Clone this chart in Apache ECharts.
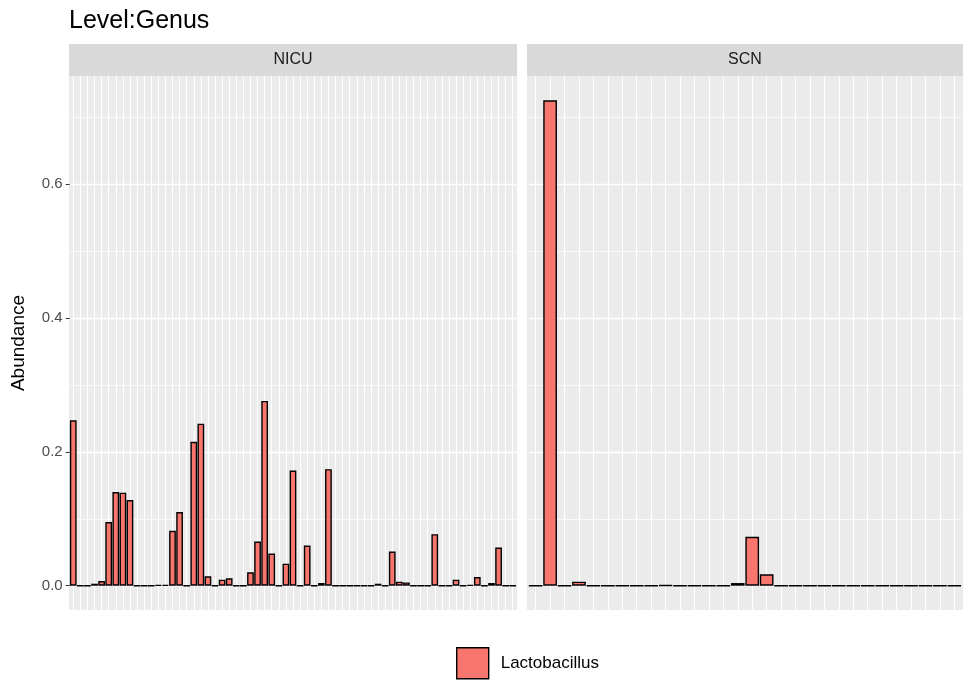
<!DOCTYPE html>
<html><head><meta charset="utf-8">
<script src="https://cdn.jsdelivr.net/npm/echarts@6/dist/echarts.min.js"></script>
<style>html,body{margin:0;padding:0;background:#fff}#c{width:964px;height:682px}</style>
</head><body><div id="c"></div>
<script>
// ---------- data ----------
const panelNames = ['NICU', 'SCN'];
const seriesName = 'Lactobacillus';
const nicuValues = [
  0.247, 0, 0, 0.003, 0.007, 0.095, 0.140, 0.139, 0.128, 0,
  0, 0, 0.001, 0.001, 0.082, 0.110, 0, 0.215, 0.242, 0.014,
  0, 0.009, 0.011, 0, 0, 0.020, 0.066, 0.276, 0.048, 0,
  0.033, 0.172, 0, 0.060, 0, 0.004, 0.174, 0, 0, 0,
  0, 0, 0, 0.003, 0, 0.051, 0.006, 0.005, 0, 0,
  0, 0.077, 0, 0, 0.009, 0, 0.001, 0.013, 0, 0.004,
  0.057, 0, 0
];
const scnValues = [
  0, 0.725, 0, 0.006, 0, 0, 0, 0, 0, 0.0005,
  0, 0, 0, 0, 0.004, 0.073, 0.017, 0, 0, 0,
  0, 0, 0, 0, 0, 0, 0, 0, 0, 0
];
const nicuSamples = nicuValues.map((_, i) => 'NICU_' + (i + 1));
const scnSamples = scnValues.map((_, i) => 'SCN_' + (i + 1));
const yTicks = [0, 0.2, 0.4, 0.6];
const yTickLabels = ['0.0', '0.2', '0.4', '0.6'];
const yMinorTicks = [0.1, 0.3, 0.5, 0.7];

// ---------- layout ----------
const FONT = 'Liberation Sans, Arial, Helvetica, sans-serif';
const panelTop = 76, panelBottom = 610, stripTop = 44;
const panelBoxes = [{ x: 69, w: 448 }, { x: 527, w: 436 }];
const categoryLists = [nicuSamples, scnSamples];
const valueLists = [nicuValues, scnValues];

const allMax = Math.max(...nicuValues, ...scnValues);
const yMin = -allMax * 0.05, yMax = allMax * 1.05;

const grids = [], xAxes = [], yAxes = [], series = [], graphics = [];
panelBoxes.forEach((p, i) => {
  const n = categoryLists[i].length;
  const s = p.w / (n + 0.2);
  grids.push({ left: p.x + 0.1 * s, width: n * s, top: panelTop, height: panelBottom - panelTop, containLabel: false });
  graphics.push({ type: 'rect', z: -10, shape: { x: p.x, y: panelTop, width: p.w, height: panelBottom - panelTop }, style: { fill: '#EBEBEB' } });
  graphics.push({ type: 'rect', z: -10, shape: { x: p.x, y: stripTop, width: p.w, height: panelTop - stripTop }, style: { fill: '#D9D9D9' } });
  graphics.push({ type: 'text', z: 5, x: p.x + p.w / 2, y: (stripTop + panelTop) / 2,
    style: { text: panelNames[i], fill: '#1A1A1A', font: '16px ' + FONT, textAlign: 'center', textVerticalAlign: 'middle' } });
  xAxes.push({
    type: 'category', gridIndex: i, data: categoryLists[i],
    axisLine: { show: false }, axisTick: { show: false }, axisLabel: { show: false },
    splitLine: { show: true, interval: 0, alignWithLabel: true, lineStyle: { color: '#FFFFFF', width: 1.1 } }
  });
  // minor grid axis
  yAxes.push({
    type: 'value', gridIndex: i, position: 'left', min: yMin, max: yMax,
    axisLine: { show: false }, axisLabel: { show: false },
    axisTick: { show: false, customValues: yMinorTicks },
    splitLine: { show: true, lineStyle: { color: '#FFFFFF', width: 0.7 } }
  });
  // major axis
  yAxes.push({
    type: 'value', gridIndex: i, position: 'left', offset: 0, min: yMin, max: yMax,
    name: i === 0 ? 'Abundance' : '', nameLocation: 'middle', nameGap: 41,
    nameTextStyle: { fontSize: 19, color: '#000', fontFamily: FONT },
    axisLine: { show: false },
    axisTick: { show: i === 0, length: 4, customValues: yTicks, lineStyle: { color: '#333333', width: 1 } },
    axisLabel: { show: i === 0, customValues: yTicks, margin: 7, fontSize: 15, color: '#4D4D4D', fontFamily: FONT,
      formatter: v => yTickLabels[yTicks.indexOf(v)] ?? '' },
    splitLine: { show: true, lineStyle: { color: '#FFFFFF', width: 1.4 } }
  });
  series.push({
    type: 'bar', name: seriesName, xAxisIndex: i, yAxisIndex: i * 2 + 1,
    data: valueLists[i], barWidth: '95%',
    itemStyle: { color: '#F8766D', borderColor: '#000000', borderWidth: 1.4 },
    emphasis: { disabled: true }
  });
});

const chart = echarts.init(document.getElementById('c'), null, { renderer: 'canvas' });
chart.setOption({
  animation: false,
  backgroundColor: '#FFFFFF',
  textStyle: { fontFamily: FONT },
  title: { text: 'Level:Genus', left: 64, top: 4, textStyle: { fontSize: 25, fontWeight: 'normal', color: '#000', fontFamily: FONT } },
  legend: {
    data: [seriesName], left: 451, top: 642, icon: 'rect', itemWidth: 32, itemHeight: 31,
    itemStyle: { borderColor: '#000', borderWidth: 1.4 },
    textStyle: { fontSize: 17, color: '#000', fontFamily: FONT, padding: [0, 0, 0, 7] }
  },
  grid: grids, xAxis: xAxes, yAxis: yAxes, series: series, graphic: graphics
});
</script></body></html>
